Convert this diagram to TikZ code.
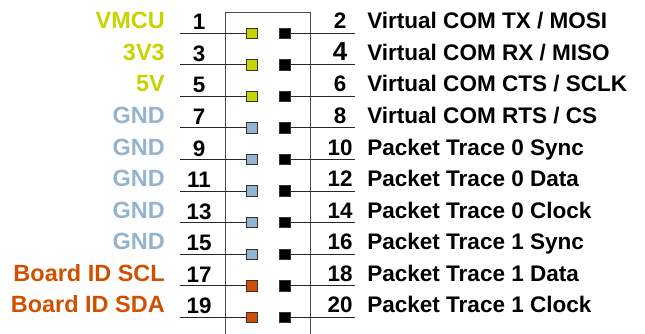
\documentclass[tikz,border=0pt]{standalone}
\usepackage{fontspec}
\setmainfont{Liberation Sans}
\definecolor{pwrcol}{HTML}{C8D400}
\definecolor{gndcol}{HTML}{94B3CF}
\definecolor{idcol}{HTML}{D15000}
\tikzset{
  pinsq/.style={draw=black!80,line width=0.6pt,minimum size=7.8pt,inner sep=0pt},
  wire/.style={line width=0.75pt,black!85},
  boxline/.style={line width=1.1pt,black!70},
  lefttxt/.style={font=\fontsize{17.6}{20}\selectfont\bfseries,inner sep=0pt},
  righttxt/.style={font=\fontsize{16.9}{20}\selectfont\bfseries,inner sep=0pt},
  numtxt/.style={font=\fontsize{16.8}{20}\selectfont\bfseries,inner sep=0pt}
}
\newcommand{\bignum}[1]{{\fontsize{19.5}{20}\selectfont #1}}
\begin{document}
\begin{tikzpicture}[x=0.75pt,y=-0.75pt]
    \useasboundingbox (0,0) rectangle (645,333);

    %Header outline
    \coordinate (hbl) at (225.5,334);
    \coordinate (htl) at (225.5,12.3);
    \coordinate (htr) at (310.5,12.3);
    \coordinate (hbr) at (310.5,334);
    \draw[boxline] (hbl) -- (htl) -- (htr) -- (hbr);

    %Pins
    \foreach \r/\name/\col/\even/\desc in {
        0/VMCU/pwrcol/2/{Virtual COM TX / MOSI},
        1/3V3/pwrcol/\bignum{4}/{Virtual COM RX / MISO},
        2/5V/pwrcol/6/{Virtual COM CTS / SCLK},
        3/GND/gndcol/8/{Virtual COM RTS / CS},
        4/GND/gndcol/10/{Packet Trace 0 Sync},
        5/GND/gndcol/12/{Packet Trace 0 Data},
        6/GND/gndcol/14/{Packet Trace 0 Clock},
        7/GND/gndcol/16/{Packet Trace 1 Sync},
        8/Board ID SCL/idcol/18/{Packet Trace 1 Data},
        9/Board ID SDA/idcol/20/{Packet Trace 1 Clock}}{
      \pgfmathsetmacro\y{33.3+31.55*\r}
      \pgfmathtruncatemacro\odd{2*\r+1}
      \coordinate (lend\r) at (180,\y);
      \coordinate (rend\r) at (355,\y);
      \node[pinsq,fill=\col] (opin\r) at (251.7,\y) {};
      \node[pinsq,fill=black] (epin\r) at (285,\y) {};
      \draw[wire] (lend\r) -- (opin\r);
      \draw[wire] (epin\r) -- (rend\r);
      \node[numtxt,anchor=base] (onum\r) at (199,\y-3.5) {\odd};
      \node[numtxt,anchor=base] (enum\r) at (340,\y-4.5) {\even};
      \node[lefttxt,anchor=base east,text=\col] (oname\r) at (165,\y-4.5) {\name};
      \node[righttxt,anchor=base west] (ename\r) at (367,\y-4.5) {\desc};
    }
\end{tikzpicture}
\end{document}
